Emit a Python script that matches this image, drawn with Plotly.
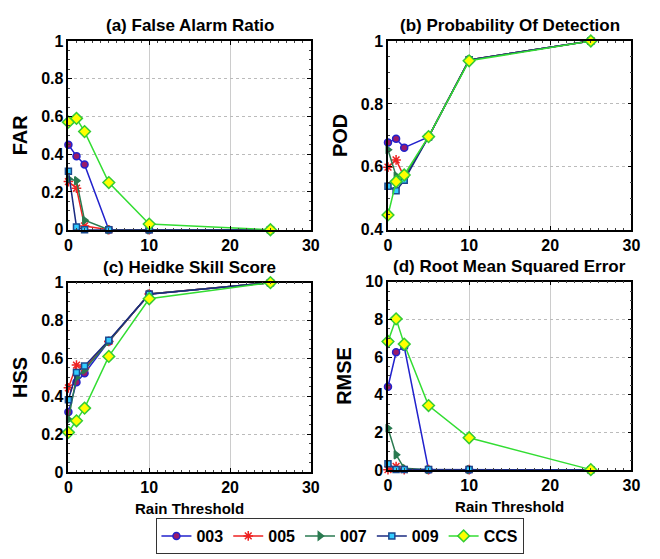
import plotly.graph_objects as go

thresholds = [0, 1, 2, 5, 10, 25]
series_names = ["003", "005", "007", "009", "CCS"]

far_003 = [0.45, 0.39, 0.345, 0.0, 0.0, 0.0]
far_005 = [0.255, 0.22, 0.02, 0.0, 0.0, 0.0]
far_007 = [0.27, 0.26, 0.05, 0.0, 0.0, 0.0]
far_009 = [0.31, 0.015, 0.0, 0.0, 0.0, 0.0]
far_ccs = [0.57, 0.59, 0.52, 0.25, 0.03, 0.0]

pod_003 = [0.677, 0.689, 0.661, 0.695, 0.94, 1.0]
pod_005 = [0.599, 0.622, 0.568, 0.695, 0.94, 1.0]
pod_007 = [0.654, 0.571, 0.565, 0.695, 0.94, 1.0]
pod_009 = [0.538, 0.524, 0.557, 0.695, 0.94, 1.0]
pod_ccs = [0.447, 0.553, 0.574, 0.696, 0.937, 1.0]

hss_003 = [0.317, 0.474, 0.522, 0.69, 0.94, 1.0]
hss_005 = [0.445, 0.565, 0.55, 0.69, 0.94, 1.0]
hss_007 = [0.278, 0.5, 0.54, 0.69, 0.94, 1.0]
hss_009 = [0.382, 0.526, 0.56, 0.696, 0.939, 1.0]
hss_ccs = [0.21, 0.271, 0.338, 0.611, 0.915, 1.0]

rmse_003 = [4.43, 6.26, 6.55, 0.03, 0.03, 0.02]
rmse_005 = [0.03, 0.2, 0.03, 0.03, 0.03, 0.02]
rmse_007 = [2.23, 0.82, 0.1, 0.03, 0.03, 0.02]
rmse_009 = [0.34, 0.04, 0.04, 0.04, 0.04, 0.02]
rmse_ccs = [6.83, 8.03, 6.69, 3.43, 1.72, 0.03]

panel_titles = ["(a) False Alarm Ratio", "(b) Probability Of Detection",
                "(c) Heidke Skill Score", "(d) Root Mean Squared Error"]
y_titles = ["FAR", "POD", "HSS", "RMSE"]
x_title = "Rain Threshold"

panels = [
    [far_003, far_005, far_007, far_009, far_ccs],
    [pod_003, pod_005, pod_007, pod_009, pod_ccs],
    [hss_003, hss_005, hss_007, hss_009, hss_ccs],
    [rmse_003, rmse_005, rmse_007, rmse_009, rmse_ccs],
]

styles = {
    "003": dict(line="#2222cc", symbol="circle", fill="#9a1a6a", mline="#2222cc", size=7),
    "005": dict(line="#ee2222", symbol="asterisk-open", fill="#ee2222", mline="#ee2222", size=8),
    "007": dict(line="#2a7a50", symbol="triangle-right", fill="#2a7a50", mline="#2a7a50", size=7),
    "009": dict(line="#1a2a80", symbol="square", fill="#33ccff", mline="#1a4a90", size=6),
    "CCS": dict(line="#33dd33", symbol="diamond", fill="#ffff00", mline="#33cc33", size=9),
}

W, H = 660, 559
def px_x(a, b):
    return [a / W, b / W]
def px_y(top, bottom):
    return [(H - bottom) / H, (H - top) / H]

x_domains = [px_x(65.7, 313), px_x(391.7, 640), px_x(65.7, 313), px_x(391.7, 640)]
y_domains = [px_y(34, 228.7), px_y(34, 228.7), px_y(283.3, 478.7), px_y(282.3, 476.7)]
y_ranges = [[0, 1], [0.4, 1], [0, 1], [0, 10]]
y_dticks = [0.2, 0.2, 0.2, 2]

fig = go.Figure()
font_family = "Liberation Sans, Arial, sans-serif"

for p in range(4):
    xa = "x" if p == 0 else f"x{p+1}"
    ya = "y" if p == 0 else f"y{p+1}"
    for name, vals in zip(series_names, panels[p]):
        s = styles[name]
        fig.add_trace(go.Scatter(
            x=thresholds, y=vals, mode="lines+markers", name=name,
            legendgroup=name, showlegend=(p == 0),
            line=dict(color=s["line"], width=1.5),
            marker=dict(symbol=s["symbol"], size=s["size"], color=s["fill"],
                        line=dict(color=s["mline"], width=1.5)),
            xaxis=xa, yaxis=ya, cliponaxis=False,
        ))

layout = dict(
    width=W, height=H, paper_bgcolor="white", plot_bgcolor="white",
    margin=dict(l=0, r=0, t=0, b=0),
    font=dict(family=font_family, color="black"),
    showlegend=True,
    legend=dict(orientation="h", x=0.52, xanchor="center", y=(H - 526) / H, yanchor="top",
                bordercolor="#333333", borderwidth=1,
                font=dict(size=16, family=font_family, weight="bold"),
                itemwidth=30, tracegroupgap=0),
)
annotations = []
for p in range(4):
    xk = "xaxis" if p == 0 else f"xaxis{p+1}"
    yk = "yaxis" if p == 0 else f"yaxis{p+1}"
    ya = "y" if p == 0 else f"y{p+1}"
    xa = "x" if p == 0 else f"x{p+1}"
    layout[xk] = dict(
        domain=x_domains[p], anchor=ya, range=[0, 30], dtick=10,
        showline=True, linecolor="black", linewidth=1.5, mirror="allticks",
        ticks="inside", ticklen=4, tickcolor="black",
        minor=dict(dtick=1, ticks="inside", ticklen=2, tickcolor="#444444", showgrid=False),
        showgrid=True, gridcolor="#cccccc", gridwidth=1,
        tickfont=dict(size=16, family=font_family, weight="bold"),
        zeroline=False,
        title=dict(text=x_title if p >= 2 else "", font=dict(size=15, family=font_family, weight="bold"), standoff=8),
    )
    layout[yk] = dict(
        domain=y_domains[p], anchor=xa, range=y_ranges[p], dtick=y_dticks[p],
        showline=True, linecolor="black", linewidth=1.5, mirror="allticks",
        ticks="inside", ticklen=4, tickcolor="black",
        minor=dict(dtick=y_dticks[p] / 4, ticks="inside", ticklen=2, tickcolor="#444444", showgrid=False),
        showgrid=True, gridcolor="#bbbbbb", griddash="dot", gridwidth=1,
        tickfont=dict(size=16, family=font_family, weight="bold"),
        zeroline=False,
        title=dict(text=y_titles[p], font=dict(size=20, family=font_family, weight="bold"), standoff=8),
    )
    xd = x_domains[p]
    annotations.append(dict(
        text=panel_titles[p], x=(xd[0] + xd[1]) / 2, xref="paper", xanchor="center",
        y=y_domains[p][1], yref="paper", yanchor="bottom", yshift=4,
        showarrow=False, font=dict(size=17, family=font_family, weight="bold"),
    ))
layout["annotations"] = annotations
fig.update_layout(**layout)
fig.write_html("out.html")
